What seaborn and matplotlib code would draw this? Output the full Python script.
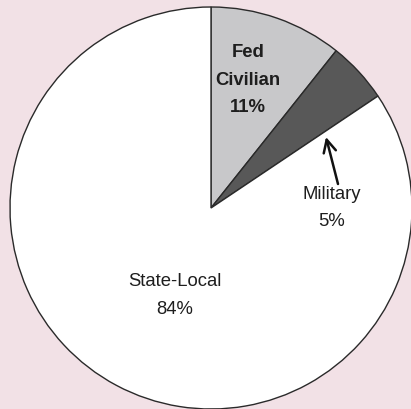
import matplotlib
matplotlib.use("Agg")
import matplotlib.pyplot as plt
import seaborn as sns

# Employment shares (slice sizes, labels as printed)
sectors = ["Fed Civilian", "Military", "State-Local"]
shares = [10.7, 4.9, 84.4]
share_labels = ["11%", "5%", "84%"]
slice_colors = ["#c8c8ca", "#585858", "#ffffff"]

sns.set_style("white")
plt.rcParams["font.family"] = ["Liberation Sans", "DejaVu Sans"]

BG = "#f2e1e6"
W, H = 411, 409
CX, CY, R = 211, 208, 201  # pie centre and radius in pixels


def px(x, y):
    """Pixel position (from top-left) to data coordinates."""
    return (x - CX) / R, (CY - y) / R


fig = plt.figure(figsize=(W / 100, H / 100), dpi=100, facecolor=BG)
ax = fig.add_axes([0, 0, 1, 1])
ax.set_facecolor(BG)

ax.pie(
    shares,
    colors=slice_colors,
    startangle=90,
    counterclock=False,
    radius=1,
    wedgeprops={"edgecolor": "#2a2a2a", "linewidth": 1.0},
)
ax.set_xlim(-CX / R, (W - CX) / R)
ax.set_ylim(-(H - CY) / R, CY / R)
ax.set_aspect("auto")
ax.axis("off")

fs = 13.3
txt = "#1e1e1e"

# Fed Civilian (bold, inside its slice)
for label, y in zip(["Fed", "Civilian", share_labels[0]], [53, 81, 108]):
    ax.text(*px(248, y), label, ha="center", va="center", fontsize=fs,
            fontweight="bold", color=txt)

# Military (outside its slice, with arrow)
ax.text(*px(332, 195), sectors[1], ha="center", va="center", fontsize=fs, color=txt)
ax.text(*px(332, 222), share_labels[1], ha="center", va="center", fontsize=fs, color=txt)
ax.annotate("", xy=px(326, 137), xytext=px(338, 184),
            arrowprops={"arrowstyle": "->,head_length=0.9,head_width=0.45",
                        "color": "#111111", "lw": 1.8,
                        "shrinkA": 0, "shrinkB": 0})

# State-Local
ax.text(*px(175, 282), sectors[2], ha="center", va="center", fontsize=fs, color=txt)
ax.text(*px(175, 310), share_labels[2], ha="center", va="center", fontsize=fs, color=txt)

fig.savefig("out.png", dpi=100, facecolor=BG)
